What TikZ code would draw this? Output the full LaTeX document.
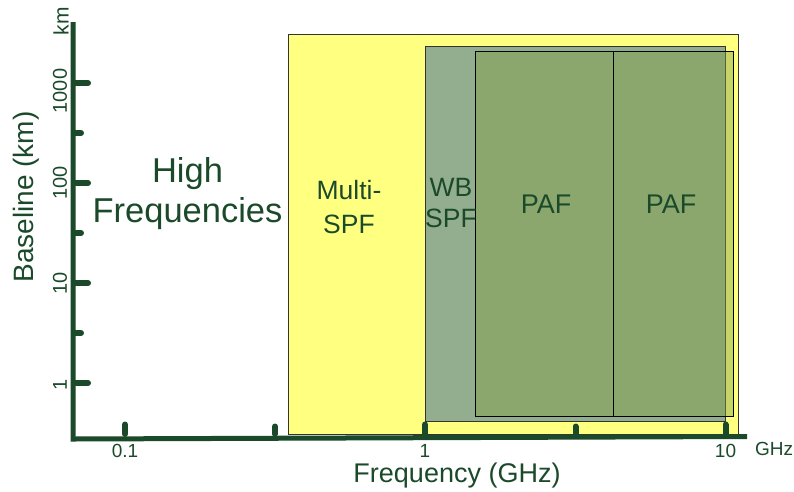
\documentclass[tikz,border=0pt]{standalone}
\usepackage{fontspec}
\setmainfont{Liberation Sans}
\definecolor{axisgreen}{HTML}{1A4A2A}
\definecolor{bandyellow}{HTML}{FFFF80}
\definecolor{wbgreen}{HTML}{93AE8F}
\definecolor{pafgreen}{RGB}{133,159,70}
\newcommand\setfs[1]{\fontsize{#1}{#1}\selectfont}
\begin{document}
\begin{tikzpicture}[x=1pt,y=-1pt,
  lbl/.style={text=axisgreen, inner sep=0pt, anchor=base},
  vlbl/.style={text=axisgreen, inner sep=0pt, rotate=90},
  axisline/.style={draw=axisgreen, line width=5pt},
  majortick/.style={draw=axisgreen, line width=6pt, line cap=round},
  minortick/.style={draw=axisgreen, line width=6pt, line cap=round},
  bandbox/.style={draw=black!80, line width=1pt},
  pafbox/.style={fill=pafgreen, fill opacity=0.45, draw=black, draw opacity=1, line width=0.9pt}]
\useasboundingbox (0,0) rectangle (794,491);

% frequency bands
\path[bandbox, fill=bandyellow] (288,34) rectangle (738,434);
\path[bandbox, fill=wbgreen] (425.5,46) rectangle (725.5,421);
\path[pafbox] (475.5,51) rectangle (613,416);
\path[pafbox] (613,51) rectangle (733,416);

% band labels
\node[lbl, font=\setfs{34.5}] (highA) at (187.5,182) {High};
\node[lbl, font=\setfs{34.5}] (highB) at (187.5,222) {Frequencies};
\node[lbl, font=\setfs{26.5}] (multiA) at (349,199) {Multi-};
\node[lbl, font=\setfs{26.5}] (multiB) at (349,233) {SPF};
\node[lbl, font=\setfs{26.5}] (wbA) at (451,196) {WB};
\node[lbl, font=\setfs{26.5}] (wbB) at (451,227) {SPF};
\node[lbl, font=\setfs{27}] (pafA) at (546,213) {PAF};
\node[lbl, font=\setfs{27}] (pafB) at (671,213) {PAF};

% axes
\coordinate (ytop) at (73,22);
\coordinate (corner) at (73,436.5);
\coordinate (xend) at (747,436.5);
\draw[axisline] (ytop) -- ([yshift=-2.5pt]corner) -- (xend);

% baseline ticks (log scale, 100 pt per decade)
\foreach \yy in {83,183,283,383} \draw[majortick] (75,\yy) -- (88,\yy);
\foreach \yy in {133,233,333} \draw[minortick] (75,\yy) -- (81,\yy);

% frequency ticks (log scale, 300 pt per decade)
\foreach \xx in {125,425,725.5} \draw[majortick] (\xx,434) -- (\xx,424.5);
\foreach \xx in {275,575.5} \draw[minortick] (\xx,434) -- (\xx,426.5);

% tick labels
\node[lbl, font=\setfs{19}] (f01) at (125,457) {0.1};
\node[lbl, font=\setfs{19}] (f1) at (425,457) {1};
\node[lbl, font=\setfs{19}] (f10) at (725.5,457) {10};
\node[lbl, font=\setfs{19}, anchor=base west] (ghz) at (755,455) {GHz};
\node[vlbl, font=\setfs{20}] (b1000) at (60,91) {1000};
\node[vlbl, font=\setfs{20}] (b100) at (60,183) {100};
\node[vlbl, font=\setfs{20}] (b10) at (60,283) {10};
\node[vlbl, font=\setfs{20}] (b1) at (60,385) {1};
\node[vlbl, font=\setfs{21}] (km) at (61,21) {km};

% axis titles
\node[lbl, font=\setfs{27}] (xtitle) at (457,482) {Frequency (GHz)};
\node[vlbl, anchor=base, font=\setfs{28}] (ytitle) at (33,197) {Baseline (km)};
\end{tikzpicture}
\end{document}
